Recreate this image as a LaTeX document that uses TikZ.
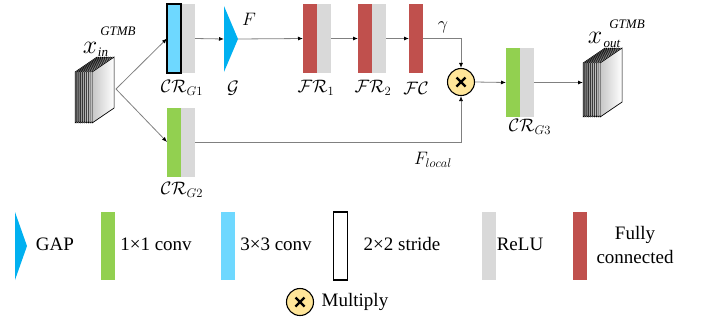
\RequirePackage{fix-cm}
\documentclass[tikz,border=0pt]{standalone}
\usepackage{fontspec}
\setmainfont{Liberation Serif}
\newfontfamily\serifx{Liberation Serif}
\usetikzlibrary{arrows.meta}
\definecolor{cgap}{HTML}{00B0F0}
\definecolor{cthree}{HTML}{6ED8FF}
\definecolor{cone}{HTML}{92D050}
\definecolor{crelu}{HTML}{D9D9D9}
\definecolor{cfc}{HTML}{C0504D}
\definecolor{cmul}{HTML}{FFE699}
\definecolor{cline}{HTML}{808080}
\newcommand\stackcube[3]{% #1 x, #2 y of front top-left, #3 height
  \foreach \i [evaluate=\i as \xx using #1+\i*1.9, evaluate=\i as \gg using 55-\i*5] in {0,...,8}{
    \filldraw[draw=black, line width=0.5pt, fill=black!\gg] (\xx,#2) -- ++(22,-15) -- ++(0,#3) -- ++(-22,15) -- cycle;
  }
  \shade[left color=black!22, right color=white] (#1+17.1,#2) -- ++(22,-15) -- ++(0,#3) -- ++(-22,15) -- cycle;
  \draw[black, line width=0.7pt] (#1+17.1,#2) -- ++(22,-15) -- ++(0,#3) -- ++(-22,15) -- cycle;
}
\begin{document}
\begin{tikzpicture}[x=1pt,y=-1pt,
  blk/.style={minimum width=14pt, minimum height=69pt, inner sep=0pt, outer sep=0pt},
  convthree/.style={blk, fill=cthree},
  convone/.style={blk, fill=cone},
  relu/.style={blk, fill=crelu},
  fcl/.style={blk, fill=cfc},
  bordered/.style={draw=black, line width=1.3pt},
  gapshape/.style={blk, minimum height=66pt, path picture={\fill[cgap] (path picture bounding box.north west) -- (path picture bounding box.east) -- (path picture bounding box.south west) -- cycle;}},
  mult/.style={circle, draw=black, line width=1.1pt, fill=cmul, minimum size=27pt, inner sep=0pt,
    path picture={\draw[line width=2.2pt] ([shift={(-4.5pt,-4.5pt)}]path picture bounding box.center) -- ([shift={(4.5pt,4.5pt)}]path picture bounding box.center);
                  \draw[line width=2.2pt] ([shift={(-4.5pt,4.5pt)}]path picture bounding box.center) -- ([shift={(4.5pt,-4.5pt)}]path picture bounding box.center);}},
  arr/.style={draw=cline, line width=0.8pt, -{Latex[length=5pt,width=4pt,color=black]}},
  lbl/.style={font=\fontsize{18}{20}\selectfont, inner sep=0pt},
  leg/.style={font=\serifx\fontsize{19}{24}\selectfont, inner sep=0pt, align=center},
  sml/.style={inner sep=0pt, font=\serifx\itshape\fontsize{13}{14}\selectfont},
]
\useasboundingbox (0,0) rectangle (702,325);

% cubes
\stackcube{75}{72}{51}
\stackcube{583}{63}{54}
\coordinate (inR) at (116,89);
\coordinate (outL) at (583,82.5);

% cube labels
\node[inner sep=0pt, font=\fontsize{26}{28}\selectfont] (xin) at (90,48) {$x$};
\node[sml] (xinsub) at (103,52) {in};
\node[sml] (xinsup) at (118,31) {GTMB};
\node[inner sep=0pt, font=\fontsize{26}{28}\selectfont] (xout) at (595,38) {$x$};
\node[sml] (xoutsub) at (612,44) {out};
\node[sml] (xoutsup) at (627,24) {GTMB};

% top branch
\node[relu] (g1g) at (188,38.5) {};
\node[convthree, bordered] (g1) at (174,38.5) {};
\node[gapshape] (gap) at (231,39) {};
\node[fcl] (fr1) at (310,38.5) {};
\node[relu] (fr1g) at (324,38.5) {};
\node[fcl] (fr2) at (365,38.5) {};
\node[relu] (fr2g) at (379,38.5) {};
\node[fcl] (fc) at (416,38.5) {};
\node[mult] (mul) at (461,82) {};

% bottom branch
\node[convone] (g2) at (174,142) {};
\node[relu] (g2g) at (188,142) {};

% output block
\node[convone] (g3) at (513,82.5) {};
\node[relu] (g3g) at (527,82.5) {};

% connectors
\draw[arr] (inR) -- (g1.west);
\draw[arr] (inR) -- (g2.west);
\draw[arr] (g1g.east) -- (gap.west);
\draw[arr] (gap.east) -- (fr1.west);
\draw[arr] (fr1g.east) -- (fr2.west);
\draw[arr] (fr2g.east) -- (fc.west);
\draw[arr] (fc.east) -| (mul.north);
\draw[arr] (g2g.east) -| (mul.south);
\draw[arr] (mul.east) -- (g3.west);
\draw[arr] (g3g.east) -- (outL);

% labels
\node[lbl] (lg1) at (182,88) {$\mathcal{CR}_{G1}$};
\node[lbl] (lg2) at (182,190) {$\mathcal{CR}_{G2}$};
\node[lbl] (lg3) at (530,127) {$\mathcal{CR}_{G3}$};
\node[lbl] (lF) at (249,19) {$F$};
\node[lbl] (lG) at (233,88) {$\mathcal{G}$};
\node[lbl] (lfr1) at (316,88) {$\mathcal{FR}_1$};
\node[lbl] (lfr2) at (373,88) {$\mathcal{FR}_2$};
\node[lbl] (lfc) at (416,88) {$\mathcal{FC}$};
\node[lbl] (lgam) at (443,27) {$\gamma$};
\node[lbl] (lfl) at (433,160) {$F_{local}$};

% legend
\node[gapshape, minimum width=12pt, minimum height=68pt] (kgap) at (21,246) {};
\node[leg, anchor=base] (tgap) at (55,250) {GAP};
\node[convone, minimum height=68pt] (kone) at (107.5,246) {};
\node[leg, anchor=base] (tone) at (156,250) {1×1 conv};
\node[convthree, minimum height=68pt] (kthree) at (228,246) {};
\node[leg, anchor=base] (tthree) at (276,250) {3×3 conv};
\node[blk, bordered, minimum height=68pt] (kstride) at (340.5,246) {};
\node[leg, anchor=base] (tstride) at (402,250) {2×2 stride};
\node[relu, minimum height=68pt] (krelu) at (488.5,246) {};
\node[leg, anchor=base] (trelu) at (520,250) {ReLU};
\node[fcl, minimum height=68pt] (kfc) at (580,246) {};
\node[leg] (tfc) at (635,245) {Fully\\connected};
\node[mult] (kmul) at (300,302) {};
\node[leg, anchor=base] (tmul) at (355,306) {Multiply};
\end{tikzpicture}
\end{document}
